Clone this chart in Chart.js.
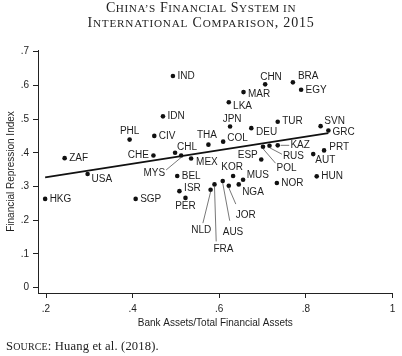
<!DOCTYPE html>
<html><head><meta charset="utf-8">
<script src="https://cdn.jsdelivr.net/npm/chart.js@4.4.1/dist/chart.umd.min.js"></script>
<style>
html,body{margin:0;padding:0;background:#fff;}
#wrap{position:relative;width:402px;height:356px;overflow:hidden;background:#fff;}
canvas{position:absolute;left:0;top:0;}
.tl{position:absolute;left:0;width:402px;text-align:center;font-family:"Liberation Serif",serif;font-size:14px;color:#222;line-height:16px;white-space:nowrap;letter-spacing:0.55px;}
.tl .s{font-size:11.2px;}
.tl2{letter-spacing:0.8px;}
.src{position:absolute;left:6px;top:338px;font-family:"Liberation Serif",serif;font-size:12.6px;line-height:16px;color:#222;white-space:nowrap;letter-spacing:0.15px;}
.src .s{font-size:10px;}
</style></head>
<body><div id="wrap"><canvas id="c" width="402" height="356"></canvas>
<div class="tl" style="top:-0.5px">C<span class="s">HINA’S</span> F<span class="s">INANCIAL</span> S<span class="s">YSTEM IN</span></div>
<div class="tl tl2" style="top:15.2px">I<span class="s">NTERNATIONAL</span> C<span class="s">OMPARISON</span>, 2015</div>
<div class="src">S<span class="s">OURCE</span>: Huang et al. (2018).</div></div>
<script>
// ---- Data ----
const countries = ['HKG','ZAF','USA','SGP','PHL','CHE','CIV','IDN','IND','CHL','BEL','ISR','MYS','PER','MEX','THA','NLD','FRA','AUS','COL','JPN','LKA','JOR','KOR','NGA','MAR','MUS','DEU','ESP','POL','CHN','RUS','NOR','TUR','KAZ','BRA','EGY','AUT','HUN','SVN','PRT','GRC'];
const bankShare = [0.198,0.243,0.296,0.407,0.393,0.448,0.450,0.470,0.493,0.498,0.503,0.508,0.512,0.522,0.535,0.575,0.580,0.589,0.608,0.609,0.625,0.622,0.622,0.632,0.645,0.656,0.655,0.674,0.697,0.701,0.706,0.716,0.733,0.735,0.735,0.770,0.789,0.817,0.825,0.834,0.842,0.852];
const repressionIndex = [0.263,0.384,0.337,0.263,0.439,0.392,0.450,0.508,0.628,0.400,0.331,0.286,0.392,0.266,0.383,0.424,0.290,0.306,0.316,0.433,0.478,0.550,0.302,0.331,0.306,0.580,0.320,0.473,0.380,0.418,0.603,0.421,0.310,0.492,0.422,0.609,0.587,0.396,0.330,0.479,0.407,0.466];
const fitX = [0.198, 0.852];
const fitY = [0.327, 0.458];
const xTicks = [0.2, 0.4, 0.6, 0.8, 1.0];
const yTicks = [0, 0.1, 0.2, 0.3, 0.4, 0.5, 0.6, 0.7];

// ---- Label placement (style): [dx, dy, align, leaderDx, leaderDy] ----
const DEF = [4.5, 0, 'left'];
const labelStyle = {
  PHL:[0,-8,'center'], CHE:[-4.5,0,'right'], USA:[4,5.3,'left'], CHL:[2,-6,'left'],
  MYS:[-16,18,'right',-15,14.5], MEX:[5,3.4,'left'], ISR:[4.7,-3,'left'], PER:[0,8.7,'center'],
  THA:[-1.5,-9.3,'center'], COL:[4,-3,'left'], DEU:[4.7,4.4,'left'], JPN:[2,-7.3,'center'],
  LKA:[4.3,3.7,'left'], MAR:[4.4,2,'left'], CHN:[-5,-7.6,'left'], BRA:[5,-5.6,'left'],
  TUR:[4.4,-1,'left'], SVN:[3.7,-5.3,'left'], GRC:[4,2,'left'], KAZ:[12.7,0,'left',11.5,0],
  RUS:[13.4,10.5,'left',12.4,8.5], POL:[13.5,21.8,'left',12.5,16.5], ESP:[-3.5,-4.5,'right'],
  PRT:[5.3,-3,'left'], AUT:[2,6,'left'], KOR:[-1,-8.4,'center'], MUS:[3.7,-4.3,'left'],
  NGA:[3.4,7.4,'left'], JOR:[7,29.3,'left',7,18.3], AUS:[0,50.7,'left',7,39.7],
  FRA:[-1,65.3,'left',1.7,57], NLD:[0.7,40,'right',-7.7,33.3]
};

const fmt = v => { const r = Math.round(v*10)/10; if (r===0) return '0'; if (r===1) return '1'; return r.toString().replace(/^0/,''); };
const TXT = '#1e1e1e';
const sans = '"Liberation Sans", Arial, sans-serif';

const labelPlugin = {
  id:'countryLabels',
  afterDatasetsDraw(chart){
    const ctx = chart.ctx; const meta = chart.getDatasetMeta(0);
    ctx.save();
    ctx.font = '10px ' + sans; ctx.fillStyle = TXT; ctx.textBaseline = 'middle';
    meta.data.forEach((pt,i)=>{
      const code = countries[i]; const st = labelStyle[code] || DEF;
      const [dx,dy,al,lx,ly] = st;
      if (lx !== undefined){
        ctx.beginPath();
        if (ly === 0) ctx.moveTo(pt.x + 3, pt.y); else ctx.moveTo(pt.x, pt.y + 2);
        ctx.lineTo(pt.x+lx, pt.y+ly); ctx.strokeStyle='#555'; ctx.lineWidth=0.8; ctx.stroke();
      }
      ctx.textAlign = al; ctx.fillText(code, pt.x+dx, pt.y+dy);
    });
    ctx.restore();
  }
};

new Chart(document.getElementById('c'), {
  type:'scatter',
  data:{ datasets:[
    { data: bankShare.map((x,i)=>({x, y: repressionIndex[i]})), pointRadius:2.3, pointBackgroundColor:'#111', pointBorderWidth:0, showLine:false },
    { type:'line', data: fitX.map((x,i)=>({x, y: fitY[i]})), borderColor:'#111', borderWidth:1.8, pointRadius:0, fill:false, tension:0 }
  ]},
  options:{
    responsive:false, devicePixelRatio:1, animation:false, events:[],
    layout:{ padding:{ left:0, top:50, right:9.5, bottom:0 } },
    plugins:{ legend:{display:false}, tooltip:{enabled:false}, title:{display:false} },
    scales:{
      x:{ type:'linear', min:0.1815, max:1.0,
        afterBuildTicks: s => { s.ticks = xTicks.map(v=>({value:v})); },
        afterFit: s => { s.height = 63; },
        ticks:{ callback: fmt, font:{family:sans, size:10}, color:TXT, padding:5, maxRotation:0, autoSkip:false },
        grid:{ drawOnChartArea:false, drawTicks:true, tickLength:5, color:'#222', lineWidth:1 },
        border:{ display:true, color:'#222', width:1 },
        title:{ display:true, text:'Bank Assets/Total Financial Assets', font:{family:sans, size:10}, color:TXT, padding:{top:0, bottom:27} }
      },
      y:{ type:'linear', min:-0.0163, max:0.705,
        afterBuildTicks: s => { s.ticks = yTicks.map(v=>({value:v})); },
        afterFit: s => { s.width = 38; },
        ticks:{ callback: fmt, font:{family:sans, size:10}, color:TXT, padding:4, autoSkip:false },
        grid:{ drawOnChartArea:false, drawTicks:true, tickLength:5, color:'#222', lineWidth:1 },
        border:{ display:true, color:'#222', width:1 },
        title:{ display:true, text:'Financial Repression Index', font:{family:sans, size:10}, color:TXT, padding:{top:5, bottom:0} }
      }
    }
  },
  plugins:[labelPlugin]
});
</script>
</body></html>
